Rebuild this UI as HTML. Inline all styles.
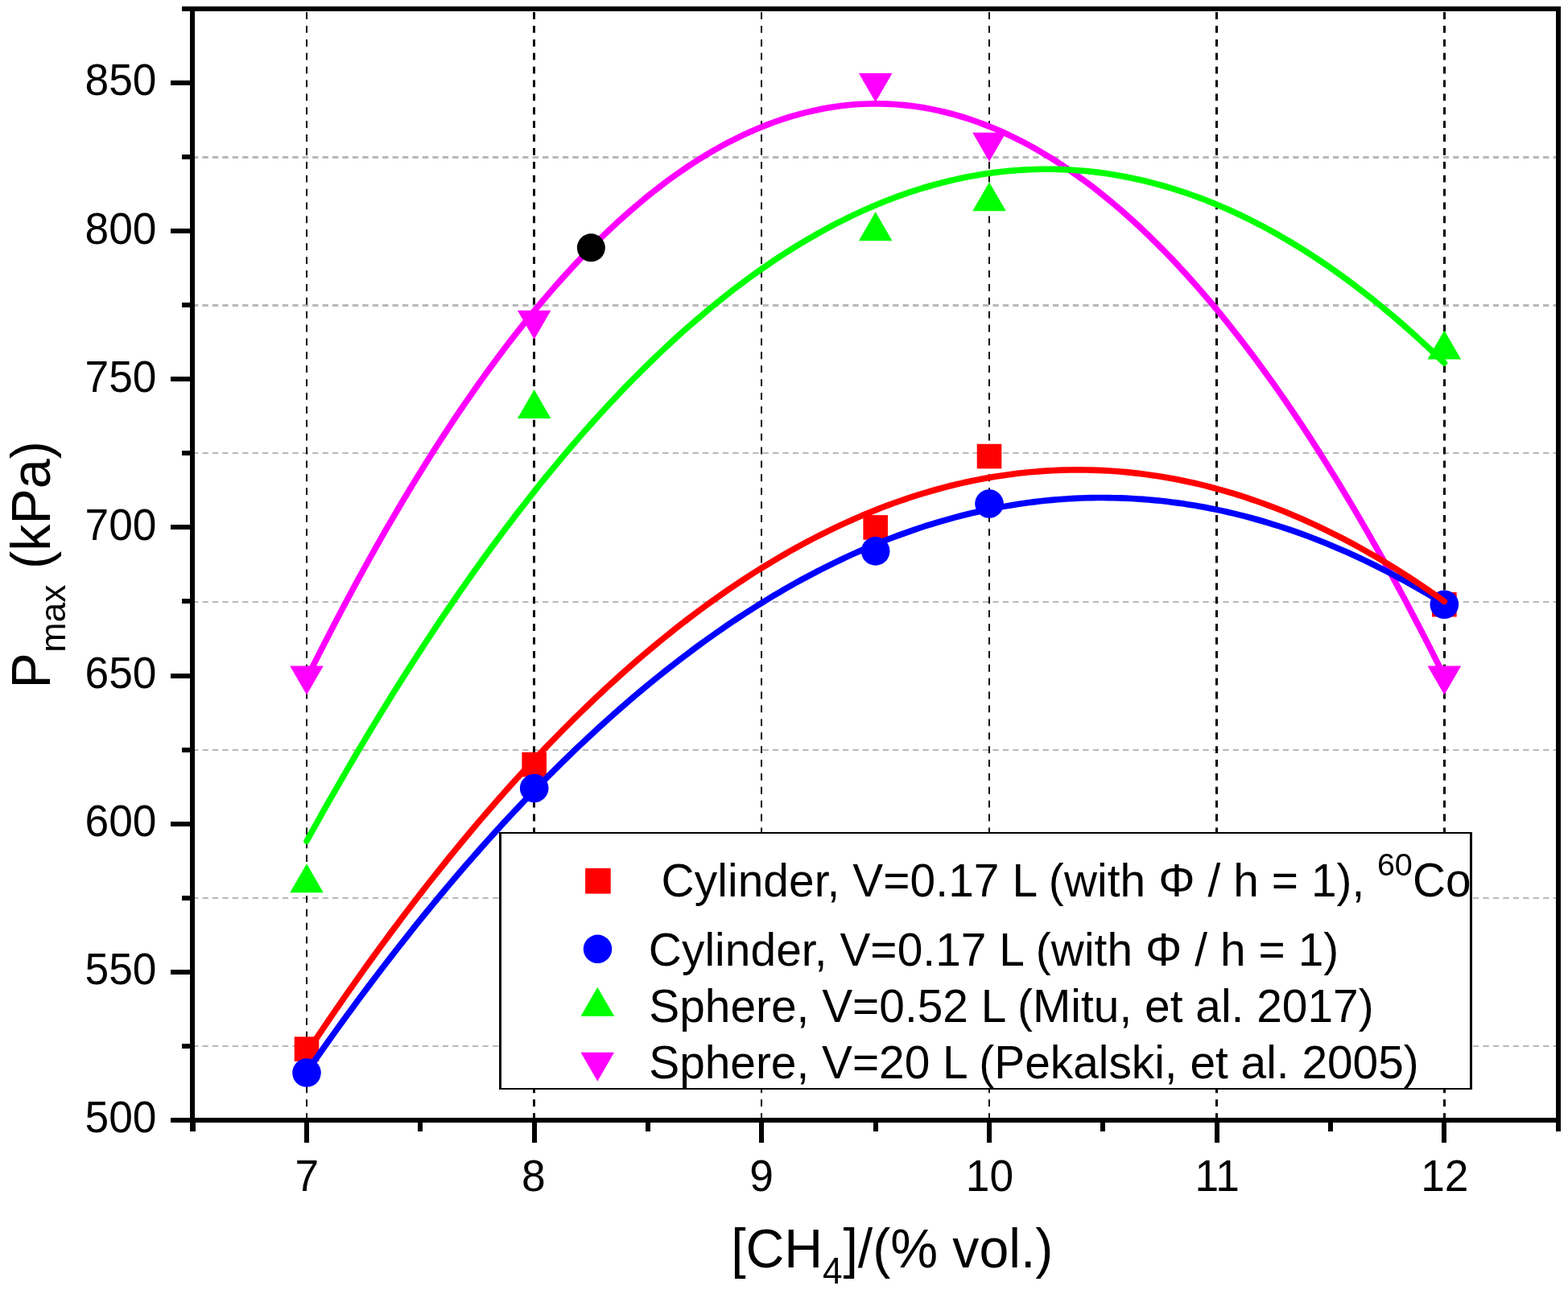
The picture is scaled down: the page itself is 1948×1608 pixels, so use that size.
<!DOCTYPE html>
<html><head><meta charset="utf-8"><title>Pmax vs CH4</title><style>html,body{margin:0;padding:0;background:#fff;overflow:hidden}svg{display:block}</style></head>
<body>
<svg width="1948" height="1608" viewBox="0 0 1948 1608">
<rect width="1948" height="1608" fill="#fff"/>
<g stroke="#b8b8b8" stroke-dasharray="7.3 5.13">
<line x1="239" y1="195.5" x2="1936" y2="195.5" stroke-width="3"/>
<line x1="239" y1="379.5" x2="1936" y2="379.5" stroke-width="3"/>
<line x1="239" y1="563" x2="1936" y2="563" stroke-width="2"/>
<line x1="239" y1="748" x2="1936" y2="748" stroke-width="2"/>
<line x1="239" y1="932" x2="1936" y2="932" stroke-width="2"/>
<line x1="239" y1="1116" x2="1936" y2="1116" stroke-width="2"/>
<line x1="239" y1="1300" x2="1936" y2="1300" stroke-width="2"/>
</g>
<g stroke="#000" stroke-dasharray="8.8 8.09">
<line x1="381" y1="1392" x2="381" y2="11" stroke-width="2"/>
<line x1="663.5" y1="1392" x2="663.5" y2="11" stroke-width="3"/>
<line x1="946" y1="1392" x2="946" y2="11" stroke-width="2"/>
<line x1="1229" y1="1392" x2="1229" y2="11" stroke-width="2"/>
<line x1="1511.5" y1="1392" x2="1511.5" y2="11" stroke-width="3"/>
<line x1="1794.5" y1="1392" x2="1794.5" y2="11" stroke-width="3"/>
</g>
<rect x="365.70" y="1288.31" width="30.6" height="30.6" fill="#ff0000"/>
<rect x="648.37" y="934.76" width="30.6" height="30.6" fill="#ff0000"/>
<rect x="1072.38" y="640.13" width="30.6" height="30.6" fill="#ff0000"/>
<rect x="1213.71" y="551.74" width="30.6" height="30.6" fill="#ff0000"/>
<rect x="1779.05" y="735.88" width="30.6" height="30.6" fill="#ff0000"/>
<circle cx="381.00" cy="1333.07" r="17.8" fill="#0000ff"/>
<circle cx="663.67" cy="979.52" r="17.8" fill="#0000ff"/>
<circle cx="1087.68" cy="684.89" r="17.8" fill="#0000ff"/>
<circle cx="1229.01" cy="625.97" r="17.8" fill="#0000ff"/>
<circle cx="1794.35" cy="751.18" r="17.8" fill="#0000ff"/>
<polygon points="381.00,1073.37 401.80,1109.37 360.20,1109.37" fill="#00ff00"/>
<polygon points="663.67,484.11 684.47,520.11 642.87,520.11" fill="#00ff00"/>
<polygon points="1087.68,263.14 1108.48,299.14 1066.88,299.14" fill="#00ff00"/>
<polygon points="1229.01,226.31 1249.81,262.31 1208.21,262.31" fill="#00ff00"/>
<polygon points="1794.35,410.46 1815.15,446.46 1773.55,446.46" fill="#00ff00"/>
<polygon points="360.20,827.57 401.80,827.57 381.00,863.57" fill="#ff00ff"/>
<polygon points="642.87,385.63 684.47,385.63 663.67,421.63" fill="#ff00ff"/>
<polygon points="1066.88,91.00 1108.48,91.00 1087.68,127.00" fill="#ff00ff"/>
<polygon points="1208.21,164.66 1249.81,164.66 1229.01,200.66" fill="#ff00ff"/>
<polygon points="1773.55,827.57 1815.15,827.57 1794.35,863.57" fill="#ff00ff"/>
<polyline points="381.00,843.38 388.07,829.17 395.13,815.11 402.20,801.19 409.27,787.42 416.33,773.78 423.40,760.29 430.47,746.94 437.53,733.74 444.60,720.67 451.67,707.75 458.73,694.97 465.80,682.34 472.87,669.85 479.93,657.49 487.00,645.29 494.07,633.22 501.13,621.30 508.20,609.52 515.27,597.88 522.34,586.39 529.40,575.04 536.47,563.83 543.54,552.76 550.60,541.84 557.67,531.05 564.74,520.42 571.80,509.92 578.87,499.57 585.94,489.35 593.00,479.29 600.07,469.36 607.14,459.58 614.20,449.94 621.27,440.44 628.34,431.08 635.40,421.87 642.47,412.80 649.54,403.87 656.60,395.09 663.67,386.44 670.74,377.95 677.80,369.59 684.87,361.37 691.94,353.30 699.00,345.37 706.07,337.59 713.14,329.94 720.20,322.44 727.27,315.08 734.34,307.87 741.40,300.79 748.47,293.86 755.54,287.07 762.60,280.43 769.67,273.92 776.74,267.56 783.80,261.35 790.87,255.27 797.94,249.34 805.00,243.55 812.07,237.90 819.14,232.40 826.21,227.03 833.27,221.81 840.34,216.74 847.41,211.80 854.47,207.01 861.54,202.36 868.61,197.86 875.67,193.49 882.74,189.27 889.81,185.19 896.87,181.26 903.94,177.46 911.01,173.81 918.07,170.30 925.14,166.94 932.21,163.72 939.27,160.64 946.34,157.70 953.41,154.90 960.47,152.25 967.54,149.74 974.61,147.37 981.67,145.15 988.74,143.07 995.81,141.13 1002.87,139.33 1009.94,137.68 1017.01,136.17 1024.07,134.80 1031.14,133.57 1038.21,132.49 1045.27,131.55 1052.34,130.75 1059.41,130.09 1066.47,129.58 1073.54,129.21 1080.61,128.98 1087.68,128.89 1094.74,128.95 1101.81,129.15 1108.88,129.49 1115.94,129.98 1123.01,130.61 1130.08,131.38 1137.14,132.29 1144.21,133.35 1151.28,134.54 1158.34,135.88 1165.41,137.37 1172.48,138.99 1179.54,140.76 1186.61,142.67 1193.68,144.73 1200.74,146.92 1207.81,149.26 1214.88,151.75 1221.94,154.37 1229.01,157.14 1236.08,160.05 1243.14,163.10 1250.21,166.29 1257.28,169.63 1264.34,173.11 1271.41,176.73 1278.48,180.50 1285.54,184.41 1292.61,188.46 1299.68,192.65 1306.74,196.99 1313.81,201.46 1320.88,206.09 1327.94,210.85 1335.01,215.76 1342.08,220.80 1349.14,226.00 1356.21,231.33 1363.28,236.81 1370.35,242.43 1377.41,248.19 1384.48,254.09 1391.55,260.14 1398.61,266.33 1405.68,272.66 1412.75,279.14 1419.81,285.75 1426.88,292.51 1433.95,299.42 1441.01,306.46 1448.08,313.65 1455.15,320.98 1462.21,328.46 1469.28,336.07 1476.35,343.83 1483.41,351.73 1490.48,359.77 1497.55,367.96 1504.61,376.29 1511.68,384.76 1518.75,393.38 1525.81,402.13 1532.88,411.03 1539.95,420.07 1547.01,429.26 1554.08,438.59 1561.15,448.06 1568.21,457.67 1575.28,467.42 1582.35,477.32 1589.41,487.36 1596.48,497.54 1603.55,507.87 1610.61,518.34 1617.68,528.95 1624.75,539.70 1631.81,550.60 1638.88,561.64 1645.95,572.82 1653.02,584.14 1660.08,595.61 1667.15,607.22 1674.22,618.97 1681.28,630.87 1688.35,642.90 1695.42,655.08 1702.48,667.40 1709.55,679.87 1716.62,692.48 1723.68,705.23 1730.75,718.12 1737.82,731.15 1744.88,744.33 1751.95,757.65 1759.02,771.12 1766.08,784.72 1773.15,798.47 1780.22,812.36 1787.28,826.40 1794.35,840.57" fill="none" stroke="#ff00ff" stroke-width="7.6" stroke-linecap="round" stroke-linejoin="round"/>
<polyline points="381.00,1045.27 388.07,1032.49 395.13,1019.80 402.20,1007.21 409.27,994.73 416.33,982.34 423.40,970.04 430.47,957.85 437.53,945.76 444.60,933.76 451.67,921.87 458.73,910.07 465.80,898.37 472.87,886.77 479.93,875.26 487.00,863.86 494.07,852.56 501.13,841.35 508.20,830.24 515.27,819.23 522.34,808.32 529.40,797.51 536.47,786.80 543.54,776.18 550.60,765.67 557.67,755.25 564.74,744.93 571.80,734.71 578.87,724.59 585.94,714.56 593.00,704.64 600.07,694.81 607.14,685.09 614.20,675.46 621.27,665.93 628.34,656.50 635.40,647.17 642.47,637.93 649.54,628.80 656.60,619.76 663.67,610.82 670.74,601.98 677.80,593.24 684.87,584.60 691.94,576.05 699.00,567.61 706.07,559.26 713.14,551.02 720.20,542.87 727.27,534.82 734.34,526.86 741.40,519.01 748.47,511.26 755.54,503.60 762.60,496.04 769.67,488.58 776.74,481.22 783.80,473.96 790.87,466.80 797.94,459.74 805.00,452.77 812.07,445.90 819.14,439.13 826.21,432.46 833.27,425.89 840.34,419.42 847.41,413.05 854.47,406.77 861.54,400.59 868.61,394.52 875.67,388.54 882.74,382.66 889.81,376.87 896.87,371.19 903.94,365.61 911.01,360.12 918.07,354.73 925.14,349.44 932.21,344.25 939.27,339.16 946.34,334.17 953.41,329.27 960.47,324.48 967.54,319.78 974.61,315.18 981.67,310.68 988.74,306.28 995.81,301.98 1002.87,297.77 1009.94,293.67 1017.01,289.66 1024.07,285.75 1031.14,281.94 1038.21,278.23 1045.27,274.62 1052.34,271.10 1059.41,267.69 1066.47,264.37 1073.54,261.15 1080.61,258.03 1087.68,255.01 1094.74,252.09 1101.81,249.27 1108.88,246.54 1115.94,243.92 1123.01,241.39 1130.08,238.96 1137.14,236.63 1144.21,234.40 1151.28,232.26 1158.34,230.23 1165.41,228.29 1172.48,226.46 1179.54,224.72 1186.61,223.08 1193.68,221.54 1200.74,220.09 1207.81,218.75 1214.88,217.50 1221.94,216.36 1229.01,215.31 1236.08,214.36 1243.14,213.51 1250.21,212.76 1257.28,212.10 1264.34,211.55 1271.41,211.09 1278.48,210.73 1285.54,210.47 1292.61,210.31 1299.68,210.25 1306.74,210.29 1313.81,210.42 1320.88,210.66 1327.94,210.99 1335.01,211.42 1342.08,211.95 1349.14,212.58 1356.21,213.30 1363.28,214.13 1370.35,215.05 1377.41,216.08 1384.48,217.20 1391.55,218.42 1398.61,219.74 1405.68,221.15 1412.75,222.67 1419.81,224.28 1426.88,226.00 1433.95,227.81 1441.01,229.72 1448.08,231.73 1455.15,233.84 1462.21,236.04 1469.28,238.35 1476.35,240.75 1483.41,243.25 1490.48,245.85 1497.55,248.55 1504.61,251.35 1511.68,254.25 1518.75,257.24 1525.81,260.34 1532.88,263.53 1539.95,266.82 1547.01,270.21 1554.08,273.70 1561.15,277.28 1568.21,280.97 1575.28,284.75 1582.35,288.64 1589.41,292.62 1596.48,296.70 1603.55,300.88 1610.61,305.16 1617.68,309.53 1624.75,314.01 1631.81,318.58 1638.88,323.25 1645.95,328.02 1653.02,332.89 1660.08,337.86 1667.15,342.92 1674.22,348.09 1681.28,353.35 1688.35,358.71 1695.42,364.18 1702.48,369.73 1709.55,375.39 1716.62,381.15 1723.68,387.00 1730.75,392.96 1737.82,399.01 1744.88,405.16 1751.95,411.41 1759.02,417.76 1766.08,424.21 1773.15,430.75 1780.22,437.40 1787.28,444.14 1794.35,450.98" fill="none" stroke="#00ff00" stroke-width="7.6" stroke-linecap="round" stroke-linejoin="round"/>
<polyline points="381.00,1332.28 388.07,1322.10 395.13,1312.01 402.20,1301.98 409.27,1292.03 416.33,1282.15 423.40,1272.34 430.47,1262.60 437.53,1252.94 444.60,1243.36 451.67,1233.84 458.73,1224.40 465.80,1215.03 472.87,1205.73 479.93,1196.51 487.00,1187.36 494.07,1178.28 501.13,1169.28 508.20,1160.35 515.27,1151.49 522.34,1142.70 529.40,1133.99 536.47,1125.35 543.54,1116.79 550.60,1108.29 557.67,1099.87 564.74,1091.53 571.80,1083.25 578.87,1075.05 585.94,1066.92 593.00,1058.87 600.07,1050.89 607.14,1042.98 614.20,1035.14 621.27,1027.38 628.34,1019.69 635.40,1012.07 642.47,1004.53 649.54,997.06 656.60,989.66 663.67,982.33 670.74,975.08 677.80,967.90 684.87,960.80 691.94,953.76 699.00,946.81 706.07,939.92 713.14,933.10 720.20,926.36 727.27,919.70 734.34,913.10 741.40,906.58 748.47,900.13 755.54,893.75 762.60,887.45 769.67,881.22 776.74,875.07 783.80,868.98 790.87,862.97 797.94,857.03 805.00,851.17 812.07,845.38 819.14,839.66 826.21,834.01 833.27,828.44 840.34,822.94 847.41,817.51 854.47,812.16 861.54,806.88 868.61,801.67 875.67,796.54 882.74,791.47 889.81,786.49 896.87,781.57 903.94,776.73 911.01,771.96 918.07,767.26 925.14,762.64 932.21,758.09 939.27,753.61 946.34,749.20 953.41,744.87 960.47,740.61 967.54,736.43 974.61,732.32 981.67,728.28 988.74,724.31 995.81,720.42 1002.87,716.60 1009.94,712.85 1017.01,709.17 1024.07,705.57 1031.14,702.04 1038.21,698.59 1045.27,695.21 1052.34,691.90 1059.41,688.66 1066.47,685.50 1073.54,682.41 1080.61,679.39 1087.68,676.44 1094.74,673.57 1101.81,670.77 1108.88,668.05 1115.94,665.40 1123.01,662.82 1130.08,660.31 1137.14,657.88 1144.21,655.52 1151.28,653.23 1158.34,651.02 1165.41,648.87 1172.48,646.81 1179.54,644.81 1186.61,642.89 1193.68,641.04 1200.74,639.26 1207.81,637.56 1214.88,635.93 1221.94,634.37 1229.01,632.89 1236.08,631.48 1243.14,630.14 1250.21,628.87 1257.28,627.68 1264.34,626.56 1271.41,625.51 1278.48,624.54 1285.54,623.64 1292.61,622.81 1299.68,622.06 1306.74,621.38 1313.81,620.77 1320.88,620.24 1327.94,619.77 1335.01,619.38 1342.08,619.07 1349.14,618.82 1356.21,618.65 1363.28,618.56 1370.35,618.53 1377.41,618.58 1384.48,618.70 1391.55,618.90 1398.61,619.17 1405.68,619.51 1412.75,619.92 1419.81,620.41 1426.88,620.97 1433.95,621.60 1441.01,622.31 1448.08,623.09 1455.15,623.94 1462.21,624.86 1469.28,625.86 1476.35,626.93 1483.41,628.08 1490.48,629.29 1497.55,630.58 1504.61,631.95 1511.68,633.38 1518.75,634.89 1525.81,636.47 1532.88,638.13 1539.95,639.86 1547.01,641.66 1554.08,643.53 1561.15,645.48 1568.21,647.50 1575.28,649.59 1582.35,651.76 1589.41,654.00 1596.48,656.31 1603.55,658.69 1610.61,661.15 1617.68,663.68 1624.75,666.29 1631.81,668.96 1638.88,671.71 1645.95,674.54 1653.02,677.43 1660.08,680.40 1667.15,683.45 1674.22,686.56 1681.28,689.75 1688.35,693.01 1695.42,696.34 1702.48,699.75 1709.55,703.23 1716.62,706.79 1723.68,710.41 1730.75,714.11 1737.82,717.88 1744.88,721.73 1751.95,725.65 1759.02,729.64 1766.08,733.70 1773.15,737.84 1780.22,742.05 1787.28,746.33 1794.35,750.69" fill="none" stroke="#0000ff" stroke-width="7.6" stroke-linecap="round" stroke-linejoin="round"/>
<polyline points="381.00,1308.58 388.07,1297.93 395.13,1287.36 402.20,1276.87 409.27,1266.46 416.33,1256.13 423.40,1245.87 430.47,1235.70 437.53,1225.60 444.60,1215.58 451.67,1205.64 458.73,1195.78 465.80,1186.00 472.87,1176.30 479.93,1166.67 487.00,1157.13 494.07,1147.66 501.13,1138.27 508.20,1128.96 515.27,1119.73 522.34,1110.58 529.40,1101.51 536.47,1092.52 543.54,1083.60 550.60,1074.76 557.67,1066.01 564.74,1057.33 571.80,1048.73 578.87,1040.21 585.94,1031.77 593.00,1023.40 600.07,1015.12 607.14,1006.91 614.20,998.79 621.27,990.74 628.34,982.77 635.40,974.88 642.47,967.07 649.54,959.34 656.60,951.68 663.67,944.11 670.74,936.61 677.80,929.19 684.87,921.86 691.94,914.60 699.00,907.42 706.07,900.31 713.14,893.29 720.20,886.35 727.27,879.48 734.34,872.69 741.40,865.99 748.47,859.36 755.54,852.81 762.60,846.33 769.67,839.94 776.74,833.63 783.80,827.39 790.87,821.24 797.94,815.16 805.00,809.16 812.07,803.24 819.14,797.40 826.21,791.64 833.27,785.95 840.34,780.35 847.41,774.82 854.47,769.38 861.54,764.01 868.61,758.72 875.67,753.51 882.74,748.38 889.81,743.33 896.87,738.35 903.94,733.46 911.01,728.64 918.07,723.90 925.14,719.24 932.21,714.66 939.27,710.16 946.34,705.74 953.41,701.40 960.47,697.13 967.54,692.95 974.61,688.84 981.67,684.81 988.74,680.86 995.81,676.99 1002.87,673.20 1009.94,669.49 1017.01,665.85 1024.07,662.30 1031.14,658.82 1038.21,655.43 1045.27,652.11 1052.34,648.87 1059.41,645.71 1066.47,642.62 1073.54,639.62 1080.61,636.69 1087.68,633.85 1094.74,631.08 1101.81,628.39 1108.88,625.78 1115.94,623.25 1123.01,620.80 1130.08,618.43 1137.14,616.13 1144.21,613.92 1151.28,611.78 1158.34,609.73 1165.41,607.75 1172.48,605.85 1179.54,604.03 1186.61,602.28 1193.68,600.62 1200.74,599.03 1207.81,597.53 1214.88,596.10 1221.94,594.75 1229.01,593.48 1236.08,592.29 1243.14,591.18 1250.21,590.15 1257.28,589.19 1264.34,588.32 1271.41,587.52 1278.48,586.80 1285.54,586.17 1292.61,585.61 1299.68,585.12 1306.74,584.72 1313.81,584.40 1320.88,584.15 1327.94,583.99 1335.01,583.90 1342.08,583.89 1349.14,583.96 1356.21,584.11 1363.28,584.34 1370.35,584.65 1377.41,585.03 1384.48,585.50 1391.55,586.04 1398.61,586.66 1405.68,587.36 1412.75,588.14 1419.81,589.00 1426.88,589.94 1433.95,590.95 1441.01,592.05 1448.08,593.22 1455.15,594.48 1462.21,595.81 1469.28,597.22 1476.35,598.71 1483.41,600.28 1490.48,601.92 1497.55,603.65 1504.61,605.45 1511.68,607.34 1518.75,609.30 1525.81,611.34 1532.88,613.46 1539.95,615.66 1547.01,617.93 1554.08,620.29 1561.15,622.72 1568.21,625.24 1575.28,627.83 1582.35,630.50 1589.41,633.25 1596.48,636.08 1603.55,638.99 1610.61,641.98 1617.68,645.04 1624.75,648.19 1631.81,651.41 1638.88,654.71 1645.95,658.09 1653.02,661.55 1660.08,665.09 1667.15,668.71 1674.22,672.40 1681.28,676.18 1688.35,680.03 1695.42,683.96 1702.48,687.98 1709.55,692.07 1716.62,696.23 1723.68,700.48 1730.75,704.81 1737.82,709.21 1744.88,713.70 1751.95,718.26 1759.02,722.90 1766.08,727.62 1773.15,732.42 1780.22,737.30 1787.28,742.26 1794.35,747.30" fill="none" stroke="#ff0000" stroke-width="7.6" stroke-linecap="round" stroke-linejoin="round"/>
<circle cx="734.34" cy="307.87" r="17.5" fill="#000"/>
<g fill="#000" shape-rendering="crispEdges">
<rect x="236" y="8" width="6" height="1398"/>
<rect x="1933" y="8" width="6" height="1398"/>
<rect x="212" y="1389" width="1727" height="6"/>
<rect x="226" y="8" width="1713" height="6"/>
<rect x="212" y="1389" width="24" height="6"/>
<rect x="212" y="1205" width="24" height="6"/>
<rect x="212" y="1021" width="24" height="6"/>
<rect x="212" y="837" width="24" height="6"/>
<rect x="212" y="652" width="24" height="6"/>
<rect x="212" y="468" width="24" height="6"/>
<rect x="212" y="284" width="24" height="6"/>
<rect x="212" y="100" width="24" height="6"/>
<rect x="226" y="1297" width="10" height="6"/>
<rect x="226" y="1113" width="10" height="6"/>
<rect x="226" y="929" width="10" height="6"/>
<rect x="226" y="744" width="10" height="6"/>
<rect x="226" y="560" width="10" height="6"/>
<rect x="226" y="376" width="10" height="6"/>
<rect x="226" y="192" width="10" height="6"/>
<rect x="226" y="8" width="10" height="6"/>
<rect x="378" y="1395" width="6" height="25"/>
<rect x="661" y="1395" width="6" height="25"/>
<rect x="943" y="1395" width="6" height="25"/>
<rect x="1226" y="1395" width="6" height="25"/>
<rect x="1509" y="1395" width="6" height="25"/>
<rect x="1791" y="1395" width="6" height="25"/>
<rect x="237" y="1395" width="6" height="11"/>
<rect x="519" y="1395" width="6" height="11"/>
<rect x="802" y="1395" width="6" height="11"/>
<rect x="1085" y="1395" width="6" height="11"/>
<rect x="1367" y="1395" width="6" height="11"/>
<rect x="1650" y="1395" width="6" height="11"/>
<rect x="1933" y="1395" width="6" height="11"/>
</g>
<g font-family="Liberation Sans, Arial, sans-serif" fill="#000">
<text font-size="53.3" transform="translate(105.55,1407.46) scale(1,1.04)">500</text>
<text font-size="53.3" transform="translate(105.55,1223.317) scale(1,1.04)">550</text>
<text font-size="53.3" transform="translate(105.55,1039.174) scale(1,1.04)">600</text>
<text font-size="53.3" transform="translate(105.55,855.0310000000001) scale(1,1.04)">650</text>
<text font-size="53.3" transform="translate(105.55,670.888) scale(1,1.04)">700</text>
<text font-size="53.3" transform="translate(105.55,486.74500000000006) scale(1,1.04)">750</text>
<text font-size="53.3" transform="translate(105.55,302.60200000000003) scale(1,1.04)">800</text>
<text font-size="53.3" transform="translate(105.55,118.45900000000003) scale(1,1.04)">850</text>
<text font-size="53.3" transform="translate(366.62,1479.5) scale(1,1.04)">7</text>
<text font-size="53.3" transform="translate(648.05,1479.5) scale(1,1.04)">8</text>
<text font-size="53.3" transform="translate(931.35,1479.5) scale(1,1.04)">9</text>
<text font-size="53.3" transform="translate(1199.78,1479.5) scale(1,1.04)">10</text>
<text font-size="53.3" transform="translate(1484.52,1479.5) scale(1,1.04)">11</text>
<text font-size="53.3" transform="translate(1765.15,1479.5) scale(1,1.04)">12</text>
<text font-size="66.2" transform="translate(908.15,1575) scale(1,1.03)">[CH</text>
<text font-size="44.1" transform="translate(1021.9,1594.8) scale(1,1.03)">4</text>
<text font-size="66.2" letter-spacing="-0.022" transform="translate(1047.4,1575) scale(1,1.03)">]/(% vol.)</text>
<text font-size="66.5" transform="translate(61.9,855.40) rotate(-90) scale(1,1.03)">P</text>
<text font-size="44.7" transform="translate(80.9,810.80) rotate(-90)">max</text>
<text font-size="66.5" transform="translate(61.9,706.90) rotate(-90) scale(1,1.03)">(kPa)</text>
</g>
<rect x="621.5" y="1035" width="1206" height="318" fill="#fff"/>
<g fill="#000" shape-rendering="crispEdges">
<rect x="620" y="1034" width="1209" height="2"/>
<rect x="620" y="1352" width="1209" height="2"/>
<rect x="620" y="1034" width="3" height="320"/>
<rect x="1826" y="1034" width="3" height="320"/>
</g>
<rect x="727.10" y="1078.95" width="31.6" height="31.6" fill="#ff0000"/>
<circle cx="742.50" cy="1179.30" r="17.75" fill="#0000ff"/>
<polygon points="742.30,1226.70 763.10,1262.70 721.50,1262.70" fill="#00ff00"/>
<polygon points="721.50,1307.70 763.10,1307.70 742.30,1343.70" fill="#ff00ff"/>
<g font-family="Liberation Sans, Arial, sans-serif" fill="#000">
<text font-size="56.8" letter-spacing="0.099" transform="translate(821.6,1113.7)">Cylinder, V=0.17 L (with &#934; / h = 1),</text>
<text font-size="39.5" transform="translate(1710.9,1087.7)">60</text>
<text font-size="56.8" transform="translate(1754.9,1114.3) scale(1,1.03)">Co</text>
<text font-size="56.8" letter-spacing="0.085" transform="translate(805.8,1199.9)">Cylinder, V=0.17 L (with &#934; / h = 1)</text>
<text font-size="56.8" letter-spacing="0.029" transform="translate(806.25,1270)">Sphere, V=0.52 L (Mitu, et al. 2017)</text>
<text font-size="56.8" letter-spacing="0.009" transform="translate(806.25,1339.7)">Sphere, V=20 L (Pekalski, et al. 2005)</text>
</g>
</svg>
</body></html>
